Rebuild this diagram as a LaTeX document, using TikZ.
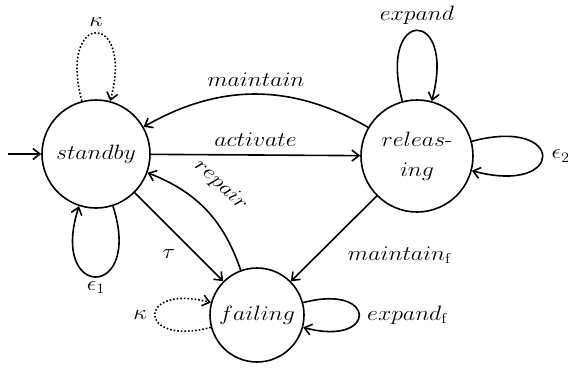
\documentclass[tikz,border=0pt]{standalone}
\usepackage{amsmath}
\usepackage{graphicx}
\usetikzlibrary{arrows.meta,automata}
% labels are set in math italic, slightly widened
\newcommand{\lbl}[1]{\scalebox{1.15}[1]{$#1$}}
\begin{document}
\begin{tikzpicture}[x=1pt,y=1pt,
  font=\fontsize{20.74}{24}\selectfont,
  >={Straight Barb[length=7pt,width=11pt]},
  every edge/.style={draw,line width=1.6pt},
  st/.style={circle,draw,line width=1.6pt,inner sep=0pt},
  dotloop/.style={dotted,line width=1.6pt}]
\useasboundingbox (0,0) rectangle (568,368);

% states
\node[st,minimum size=108pt] (standby) at (96,214) {\lbl{standby}};
\node[st,minimum size=112pt,align=center] (releasing) at (417,212) {\lbl{releas\text{-}}\\[6pt]\lbl{ing}};
\node[st,minimum size=94pt] (failing) at (257,53) {\lbl{failing}};

% initial arrow
\coordinate (init) at (8,214);
\draw[->,line width=1.6pt] (init) -- (standby);

% transitions between states
\path[->]
  (standby) edge node[above=4pt] {\lbl{activate}} (releasing)
  (releasing) edge[bend right=30] node[above=4pt] {\lbl{maintain}} (standby)
  (standby) edge node[below left=4pt,pos=0.55] {\lbl{\tau}} (failing)
  (failing) edge[bend right=25] node[sloped,above=15pt,pos=0.55] {\lbl{repair}} (standby)
  (releasing) edge node[pos=0.5,anchor=north west,xshift=10pt,yshift=-4pt] {\lbl{maintain_{\mathrm{f}}}} (failing);

% self loops
\path[->]
  (standby) edge[dotloop,out=105,in=75,looseness=8.5] node[above=2pt] {\lbl{\kappa}} (standby)
  (standby) edge[out=-72,in=-108,looseness=7.5] node[below=1pt] {\lbl{\epsilon_1}} (standby)
  (releasing) edge[out=105,in=75,looseness=8.5] node[above=2pt] {\lbl{expand}} (releasing)
  (releasing) edge[out=15,in=-15,looseness=8.5] node[right=5pt] {\lbl{\epsilon_2}} (releasing)
  (failing) edge[out=15,in=-15,looseness=8] node[right=4pt] {\lbl{expand_{\mathrm{f}}}} (failing)
  (failing) edge[dotloop,out=195,in=165,looseness=8] node[left=4pt] {\lbl{\kappa}} (failing);
\end{tikzpicture}
\end{document}
